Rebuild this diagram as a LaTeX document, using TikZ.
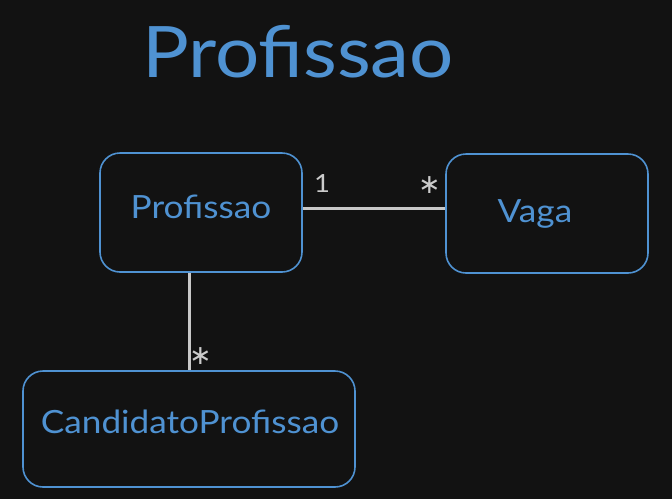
\documentclass[tikz,border=0pt]{standalone}
\usepackage{fontspec}
\setmainfont{Lato}[FakeStretch=1.1]
\newfontfamily\symfont{DejaVu Sans}
\definecolor{bg}{HTML}{121212}
\definecolor{umlblue}{HTML}{4F92D2}
\definecolor{edgegray}{HTML}{C8C8C8}
\begin{document}
\begin{tikzpicture}[x=1pt,y=-1pt,
  cls/.style={draw=umlblue, line width=1.6pt, rounded corners=20pt, inner sep=0pt},
  clstext/.style={text=umlblue, font=\fontsize{32}{36}\selectfont, anchor=base, inner sep=0pt},
  assoc/.style={draw=edgegray, line width=3pt},
  mult/.style={text=edgegray!95!white, font=\fontsize{25}{28}\selectfont, anchor=base, inner sep=0pt},
  star/.style={text=edgegray!95!white, font=\symfont\fontsize{27}{30}\selectfont, anchor=center, inner sep=0pt}]
\fill[bg] (0,0) rectangle (672,499);
\useasboundingbox (0,0) rectangle (672,499);
\node[text=umlblue, font=\fontsize{71}{80}\selectfont, anchor=base, inner sep=0pt] (title) at (298,77) {Profissao};
\node[cls, minimum width=202pt, minimum height=119pt] (prof) at (201,212.5) {};
\node[cls, minimum width=202pt, minimum height=119pt] (vaga) at (547,213.5) {};
\node[cls, minimum width=332pt, minimum height=116pt] (cand) at (189,429) {};
\node[clstext] (proft) at (201,218) {Profissao};
\node[clstext] (vagat) at (535,222) {Vaga};
\node[clstext] (candt) at (190,433) {CandidatoProfissao};
\draw[assoc] (prof.east |- 0,208) coordinate (a1) -- (vaga.west |- 0,208) coordinate (a2);
\draw[assoc] (prof.south -| 189,0) coordinate (b1) -- (cand.north -| 189,0) coordinate (b2);
\node[mult] (m1) at (322,192) {1};
\node[star] (m2) at (429.5,185) {∗};
\node[star] (m3) at (200.5,356) {∗};
\end{tikzpicture}
\end{document}
